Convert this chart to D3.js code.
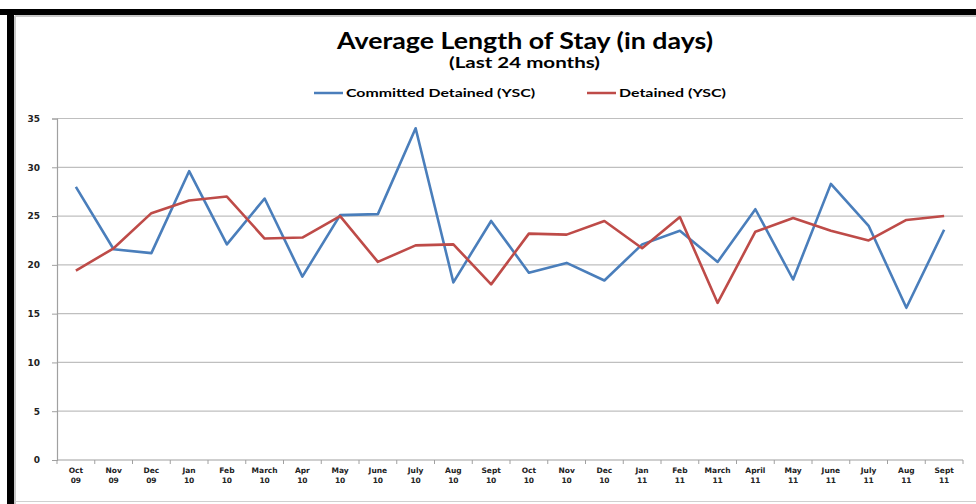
<!DOCTYPE html>
<html>
<head>
<meta charset="utf-8">
<script src="https://cdnjs.cloudflare.com/ajax/libs/d3/7.8.5/d3.min.js"></script>
<style>
  body { margin: 0; background: #fff; }
  svg { display: block; }
</style>
</head>
<body>
<div id="dataviz_area"></div>
<script>
// month labels (two lines each)
var months = ["Oct", "Nov", "Dec", "Jan", "Feb", "March", "Apr", "May", "June", "July", "Aug", "Sept",
              "Oct", "Nov", "Dec", "Jan", "Feb", "March", "April", "May", "June", "July", "Aug", "Sept"];
var years = ["09", "09", "09", "10", "10", "10", "10", "10", "10", "10", "10", "10",
             "10", "10", "10", "11", "11", "11", "11", "11", "11", "11", "11", "11"];

var committed = [28.0, 21.6, 21.2, 29.6, 22.1, 26.8, 18.8, 25.1, 25.2, 34.0, 18.2, 24.5,
                 19.2, 20.2, 18.4, 22.1, 23.5, 20.3, 25.7, 18.5, 28.3, 24.0, 15.6, 23.6];
var detained = [19.4, 21.7, 25.3, 26.6, 27.0, 22.7, 22.8, 25.0, 20.3, 22.0, 22.1, 18.0,
                23.2, 23.1, 24.5, 21.7, 24.9, 16.1, 23.4, 24.8, 23.5, 22.5, 24.6, 25.0];

var yTicks = [0, 5, 10, 15, 20, 25, 30, 35];

var W = 976, H = 504;
var margin = {top: 118.5, right: 13, bottom: 44, left: 57},
    width = W - margin.left - margin.right,
    height = H - margin.top - margin.bottom;

var root = d3.select("#dataviz_area").append("svg")
    .attr("width", W)
    .attr("height", H);

// frame
root.append("rect").attr("x", 0).attr("y", 9).attr("width", W).attr("height", 6).attr("fill", "#000");
root.append("rect").attr("x", 7).attr("y", 9).attr("width", 7).attr("height", H - 9).attr("fill", "#000");
root.append("line").attr("x1", 15).attr("x2", W).attr("y1", 16).attr("y2", 16)
    .attr("stroke", "#c8c8c8").attr("stroke-width", 2);
root.append("line").attr("x1", 15).attr("x2", 15).attr("y1", 16).attr("y2", H)
    .attr("stroke", "#c8c8c8").attr("stroke-width", 2);
root.append("line").attr("x1", 15).attr("x2", W).attr("y1", 501.5).attr("y2", 501.5)
    .attr("stroke", "#d0d0d0").attr("stroke-width", 1);

// titles (source image is stretched horizontally, so fit text widths)
root.append("text")
  .attr("x", 337).attr("y", 49)
  .attr("textLength", 376).attr("lengthAdjust", "spacingAndGlyphs")
  .style("font-family", "Lato, 'Open Sans', sans-serif")
  .style("font-weight", "bold")
  .style("font-size", "22px")
  .attr("fill", "#000")
  .text("Average Length of Stay (in days)");

root.append("text")
  .attr("x", 449).attr("y", 68)
  .attr("textLength", 151).attr("lengthAdjust", "spacingAndGlyphs")
  .style("font-family", "Lato, 'Open Sans', sans-serif")
  .style("font-weight", "bold")
  .style("font-size", "15px")
  .attr("fill", "#000")
  .text("(Last 24 months)");

// legend
var legend = [
  {name: "Committed Detained (YSC)", color: "#4a7ebb", x: 314, len: 189},
  {name: "Detained (YSC)", color: "#be4b48", x: 587, len: 107}
];
var lg = root.selectAll(".legend").data(legend).enter().append("g")
  .attr("transform", function(d) { return "translate(" + d.x + ",93)"; });
lg.append("line").attr("x1", 0).attr("x2", 29).attr("y1", 0).attr("y2", 0)
  .attr("stroke", function(d) { return d.color; }).attr("stroke-width", 2.5);
lg.append("text").attr("x", 32).attr("y", 4)
  .attr("textLength", function(d) { return d.len; }).attr("lengthAdjust", "spacingAndGlyphs")
  .style("font-family", "Lato, 'Open Sans', sans-serif")
  .style("font-weight", "bold")
  .style("font-size", "12px")
  .text(function(d) { return d.name; });

var svg = root.append("g")
  .attr("transform", "translate(" + margin.left + "," + margin.top + ")");

var idx = d3.range(months.length);
var x = d3.scaleBand().domain(idx).range([0, width]);
var y = d3.scaleLinear().domain([0, 35]).range([height, 0]);

// gridlines
svg.selectAll(".grid").data(yTicks.slice(1)).enter().append("line")
  .attr("x1", 0).attr("x2", width)
  .attr("y1", function(d) { return y(d); }).attr("y2", function(d) { return y(d); })
  .attr("stroke", "#bfbfbf").attr("stroke-width", 1.2);

// y axis
var yAxis = svg.append("g")
  .call(d3.axisLeft(y).tickValues(yTicks).tickSize(5).tickPadding(12));
yAxis.select(".domain").attr("stroke", "#a0a0a0").attr("stroke-width", 1.2);
yAxis.selectAll(".tick line").attr("stroke", "#a0a0a0");
yAxis.selectAll("text")
  .style("font-family", "'DejaVu Sans', Verdana, sans-serif")
  .style("font-weight", "bold")
  .style("font-size", "9px")
  .attr("fill", "#222");

// x axis: ticks at category boundaries
var xAxis = svg.append("g").attr("transform", "translate(0," + height + ")");
xAxis.append("line").attr("x1", 0).attr("x2", width).attr("y1", 0).attr("y2", 0)
  .attr("stroke", "#a0a0a0").attr("stroke-width", 1.2);
xAxis.selectAll(".xt").data(d3.range(months.length + 1)).enter().append("line")
  .attr("x1", function(d) { return d * x.step(); })
  .attr("x2", function(d) { return d * x.step(); })
  .attr("y1", 0).attr("y2", 4)
  .attr("stroke", "#a0a0a0");
var xl = xAxis.selectAll(".xl").data(idx).enter().append("text")
  .attr("text-anchor", "middle")
  .attr("x", function(d) { return x(d) + x.bandwidth() / 2; })
  .style("font-family", "'DejaVu Sans', Verdana, sans-serif")
  .style("font-weight", "bold")
  .style("font-size", "7.5px")
  .attr("fill", "#222");
xl.append("tspan").attr("x", function(d) { return x(d) + x.bandwidth() / 2; }).attr("y", 13)
  .text(function(d) { return months[d]; });
xl.append("tspan").attr("x", function(d) { return x(d) + x.bandwidth() / 2; }).attr("y", 23)
  .text(function(d) { return years[d]; });

// lines
var line = function(vals) {
  return d3.line()
    .x(function(d) { return x(d) + x.bandwidth() / 2; })
    .y(function(d) { return y(vals[d]); })(idx);
};
svg.append("path").attr("d", line(committed))
  .attr("fill", "none").attr("stroke", "#4a7ebb").attr("stroke-width", 2.6)
  .attr("stroke-linejoin", "round");
svg.append("path").attr("d", line(detained))
  .attr("fill", "none").attr("stroke", "#be4b48").attr("stroke-width", 2.6)
  .attr("stroke-linejoin", "round");
</script>
</body>
</html>
